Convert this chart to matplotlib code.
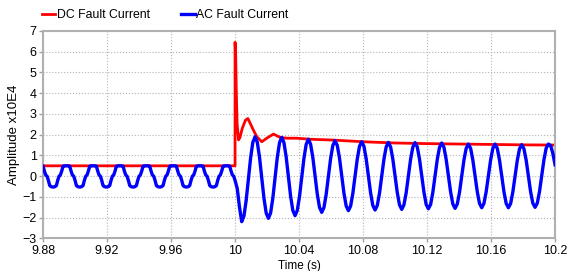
import numpy as np
import matplotlib
matplotlib.use('Agg')
import matplotlib.pyplot as plt

plt.rcParams['font.family'] = ['Liberation Sans', 'DejaVu Sans']

# tick labels
x_ticks = [9.88, 9.92, 9.96, 10.0, 10.04, 10.08, 10.12, 10.16, 10.2]
x_tick_labels = ['9.88', '9.92', '9.96', '10', '10.04', '10.08', '10.12', '10.16', '10.2']
y_ticks = [-3, -2, -1, 0, 1, 2, 3, 4, 5, 6, 7]

# DC fault current (x10E4)
dc_time = [9.88, 10.0, 10.0, 10.0004, 10.0008, 10.0013, 10.0022, 10.003, 10.0045,
           10.0065, 10.008, 10.0094, 10.0114, 10.0136, 10.0167, 10.0198, 10.024,
           10.0281, 10.0323, 10.0386, 10.0469, 10.0615, 10.08, 10.1, 10.12, 10.14,
           10.16, 10.18, 10.2]
dc_current = [0.5, 0.5, 6.45, 5.8, 4.0, 2.5, 1.75, 1.85, 2.3,
              2.7, 2.78, 2.56, 2.23, 1.9, 1.66, 1.83, 2.03,
              1.87, 1.83, 1.83, 1.78, 1.74, 1.66, 1.60, 1.57, 1.55,
              1.53, 1.51, 1.50]

# AC current before the fault, sampled every 1/20 cycle (9.88 .. 10.0)
ac_pre_time = np.linspace(9.88, 10.0, 145)
ac_pre = [0.48, 0.25, 0.06, 0.0, -0.2, -0.45, -0.5, -0.52, -0.52, -0.5,
          -0.45, -0.2, 0.0, 0.06, 0.25, 0.48, 0.5,
          0.5, 0.5, 0.5, 0.48, 0.25, 0.06, 0.0, -0.2, -0.45, -0.5,
          -0.52, -0.52, -0.5, -0.45, -0.2, 0.0, 0.06, 0.25, 0.48, 0.5,
          0.5, 0.5, 0.5, 0.48, 0.25, 0.06, 0.0, -0.2, -0.45, -0.5,
          -0.52, -0.52, -0.5, -0.45, -0.2, 0.0, 0.06, 0.25, 0.48, 0.5,
          0.5, 0.5, 0.5, 0.48, 0.25, 0.06, 0.0, -0.2, -0.45, -0.5,
          -0.52, -0.52, -0.5, -0.45, -0.2, 0.0, 0.06, 0.25, 0.48, 0.5,
          0.5, 0.5, 0.5, 0.48, 0.25, 0.06, 0.0, -0.2, -0.45, -0.5,
          -0.52, -0.52, -0.5, -0.45, -0.2, 0.0, 0.06, 0.25, 0.48, 0.5,
          0.5, 0.5, 0.5, 0.48, 0.25, 0.06, 0.0, -0.2, -0.45, -0.5,
          -0.52, -0.52, -0.5, -0.45, -0.2, 0.0, 0.06, 0.25, 0.48, 0.5,
          0.5, 0.5, 0.5, 0.48, 0.25, 0.06, 0.0, -0.2, -0.45, -0.5,
          -0.52, -0.52, -0.5, -0.45, -0.2, 0.0, 0.06, 0.25, 0.48, 0.5,
          0.5, 0.5, 0.5, 0.48, 0.25, 0.06, 0.0, -0.2]

# AC current after the fault, sampled every 1/12 cycle (10.0 .. 10.2)
ac_post_time = np.linspace(10.0, 10.2, 145)
ac_post = [-0.2, -0.6, -1.5, -2.19, -1.92, -1.17, -0.15, 0.88, 1.63, 1.90,
           1.64, 0.92, -0.07, -1.05, -1.77, -2.03,
           -1.77, -1.06, -0.08, 0.90, 1.61, 1.87,
           1.62, 0.93, -0.02, -0.96, -1.65, -1.90,
           -1.65, -0.98, -0.06, 0.86, 1.53, 1.78,
           1.54, 0.90, 0.02, -0.86, -1.50, -1.74,
           -1.51, -0.88, -0.02, 0.85, 1.48, 1.71,
           1.48, 0.87, 0.03, -0.82, -1.43, -1.66,
           -1.44, -0.83, 0.0, 0.83, 1.44, 1.66,
           1.44, 0.84, 0.02, -0.81, -1.41, -1.63,
           -1.41, -0.82, 0.0, 0.82, 1.41, 1.63,
           1.41, 0.82, 0.02, -0.79, -1.38, -1.60,
           -1.38, -0.80, 0.01, 0.82, 1.40, 1.62,
           1.41, 0.82, 0.03, -0.77, -1.36, -1.57,
           -1.36, -0.78, 0.02, 0.81, 1.39, 1.60,
           1.39, 0.81, 0.03, -0.76, -1.34, -1.55,
           -1.34, -0.78, 0.0, 0.78, 1.34, 1.55,
           1.34, 0.78, 0.02, -0.75, -1.31, -1.52,
           -1.31, -0.75, 0.02, 0.78, 1.34, 1.55,
           1.34, 0.78, 0.02, -0.75, -1.31, -1.52,
           -1.32, -0.76, 0.0, 0.76, 1.32, 1.52,
           1.32, 0.77, 0.01, -0.75, -1.30, -1.50,
           -1.30, -0.74, 0.03, 0.79, 1.35, 1.55,
           1.48, 1.10, 0.55]

ac_time = np.concatenate([ac_pre_time[:-1], ac_post_time])
ac_current = np.concatenate([ac_pre[:-1], ac_post])

fig = plt.figure(figsize=(5.74, 2.71), dpi=100)
ax = fig.add_axes([0.075, 0.12, 0.892, 0.766])

ax.plot(dc_time, dc_current, color='#ff0000', lw=2.0, label='DC Fault Current', zorder=2)
ax.plot(ac_time, ac_current, color='#0000ff', lw=2.4, label='AC Fault Current', zorder=3)

ax.set_xlim(9.88, 10.2)
ax.set_ylim(-3, 7)
ax.set_xticks(x_ticks)
ax.set_xticklabels(x_tick_labels)
ax.set_yticks(y_ticks)
ax.tick_params(labelsize=9, length=3, width=1, color='#a0a0a0', pad=1.5)
ax.grid(True, linestyle=':', color='#b4b4b4', lw=0.8)

for s in ax.spines.values():
    s.set_color('#b0b0b0')
    s.set_linewidth(1.5)

ax.set_xlabel('Time (s)', fontsize=8.5, labelpad=2)
ax.set_ylabel('Amplitude x10E4', fontsize=9.5, labelpad=2)

fig.legend(loc='center left', bbox_to_anchor=(0.073, 0.945), ncol=2, frameon=False,
           fontsize=8.8, handlelength=1.1, handletextpad=0.1, columnspacing=2.6,
           borderpad=0, borderaxespad=0)

fig.savefig('out.png', dpi=100)
